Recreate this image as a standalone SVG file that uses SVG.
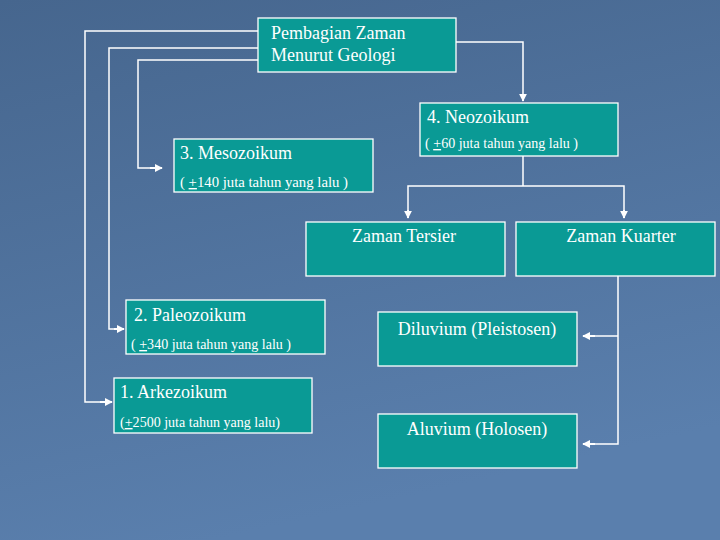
<svg xmlns="http://www.w3.org/2000/svg" width="720" height="540" viewBox="0 0 720 540">
<defs>
<linearGradient id="bg" x1="0" y1="0" x2="0.3" y2="1">
<stop offset="0" stop-color="#46668e"/>
<stop offset="1" stop-color="#5a7fad"/>
</linearGradient>
<marker id="ah" viewBox="0 0 10 10" refX="9" refY="5" markerWidth="4" markerHeight="4" orient="auto" markerUnits="strokeWidth">
<path d="M0,0 L10,5 L0,10 z" fill="#ffffff"/>
</marker>
<style>
.box{fill:#0a9a95;stroke:#ffffff;stroke-width:1.3}
text{font-family:'Liberation Serif','Times New Roman','DejaVu Serif',serif;fill:#ffffff}
.big{font-size:18px}
.small{font-size:14px}
.ln{fill:none;stroke:#ffffff;stroke-width:1.5}
.arr{fill:none;stroke:#ffffff;stroke-width:2;marker-end:url(#ah)}
.u{text-decoration:underline}
</style>
</defs>
<rect width="720" height="540" fill="url(#bg)"/>
<g id="connectors">
<polyline class="ln" points="258,31 85,31 85,402 100,402"/>
<polyline class="arr" points="100,402 112,402"/>
<polyline class="ln" points="258,48 109,48 109,329 114,329"/>
<polyline class="arr" points="114,329 124,329"/>
<polyline class="ln" points="258,60 138,60 138,168 150,168"/>
<polyline class="arr" points="150,168 162,168"/>
<polyline class="ln" points="456,42 523,42 523,95"/>
<polyline class="arr" points="523,95 523,101"/>
<polyline class="ln" points="523,156 523,186"/>
<polyline class="ln" points="408,210 408,186 624,186 624,210"/>
<polyline class="arr" points="408,210 408,218"/>
<polyline class="arr" points="624,210 624,218"/>
<polyline class="ln" points="618,276 618,444 595,444"/>
<polyline class="ln" points="618,336 595,336"/>
<polyline class="arr" points="595,336 583,336"/>
<polyline class="arr" points="595,444 583,444"/>
</g>
<g id="root">
<rect class="box" x="258" y="18" width="198" height="54"/>
<text class="big" x="271" y="39">Pembagian Zaman</text>
<text class="big" x="271" y="61">Menurut Geologi</text>
</g>
<g id="neozoikum">
<rect class="box" x="420" y="103" width="198" height="53"/>
<text class="big" x="427" y="123">4. Neozoikum</text>
<text class="small" x="425" y="148" textLength="153" lengthAdjust="spacingAndGlyphs">( <tspan class="u">+</tspan>60 juta tahun yang lalu )</text>
</g>
<g id="mesozoikum">
<rect class="box" x="174" y="139" width="199" height="53"/>
<text class="big" x="180" y="159">3. Mesozoikum</text>
<text class="small" x="180" y="187" textLength="168" lengthAdjust="spacingAndGlyphs">( <tspan class="u">+</tspan>140 juta tahun yang lalu )</text>
</g>
<g id="tersier">
<rect class="box" x="306" y="222" width="199" height="54"/>
<text class="big" x="404" y="242" text-anchor="middle">Zaman Tersier</text>
</g>
<g id="kuarter">
<rect class="box" x="516" y="222" width="199" height="54"/>
<text class="big" x="621" y="242" text-anchor="middle">Zaman Kuarter</text>
</g>
<g id="paleozoikum">
<rect class="box" x="126" y="300" width="199" height="54"/>
<text class="big" x="134" y="321">2. Paleozoikum</text>
<text class="small" x="131" y="349" textLength="160" lengthAdjust="spacingAndGlyphs">( <tspan class="u">+</tspan>340 juta tahun yang lalu )</text>
</g>
<g id="diluvium">
<rect class="box" x="378" y="312" width="199" height="54"/>
<text class="big" x="477" y="335" text-anchor="middle">Diluvium (Pleistosen)</text>
</g>
<g id="arkezoikum">
<rect class="box" x="114" y="378" width="198" height="55"/>
<text class="big" x="120" y="398">1. Arkezoikum</text>
<text class="small" x="120" y="427" textLength="160" lengthAdjust="spacingAndGlyphs">(<tspan class="u">+</tspan>2500 juta tahun yang lalu)</text>
</g>
<g id="aluvium">
<rect class="box" x="378" y="414" width="199" height="54"/>
<text class="big" x="477" y="435" text-anchor="middle">Aluvium (Holosen)</text>
</g>
</svg>
